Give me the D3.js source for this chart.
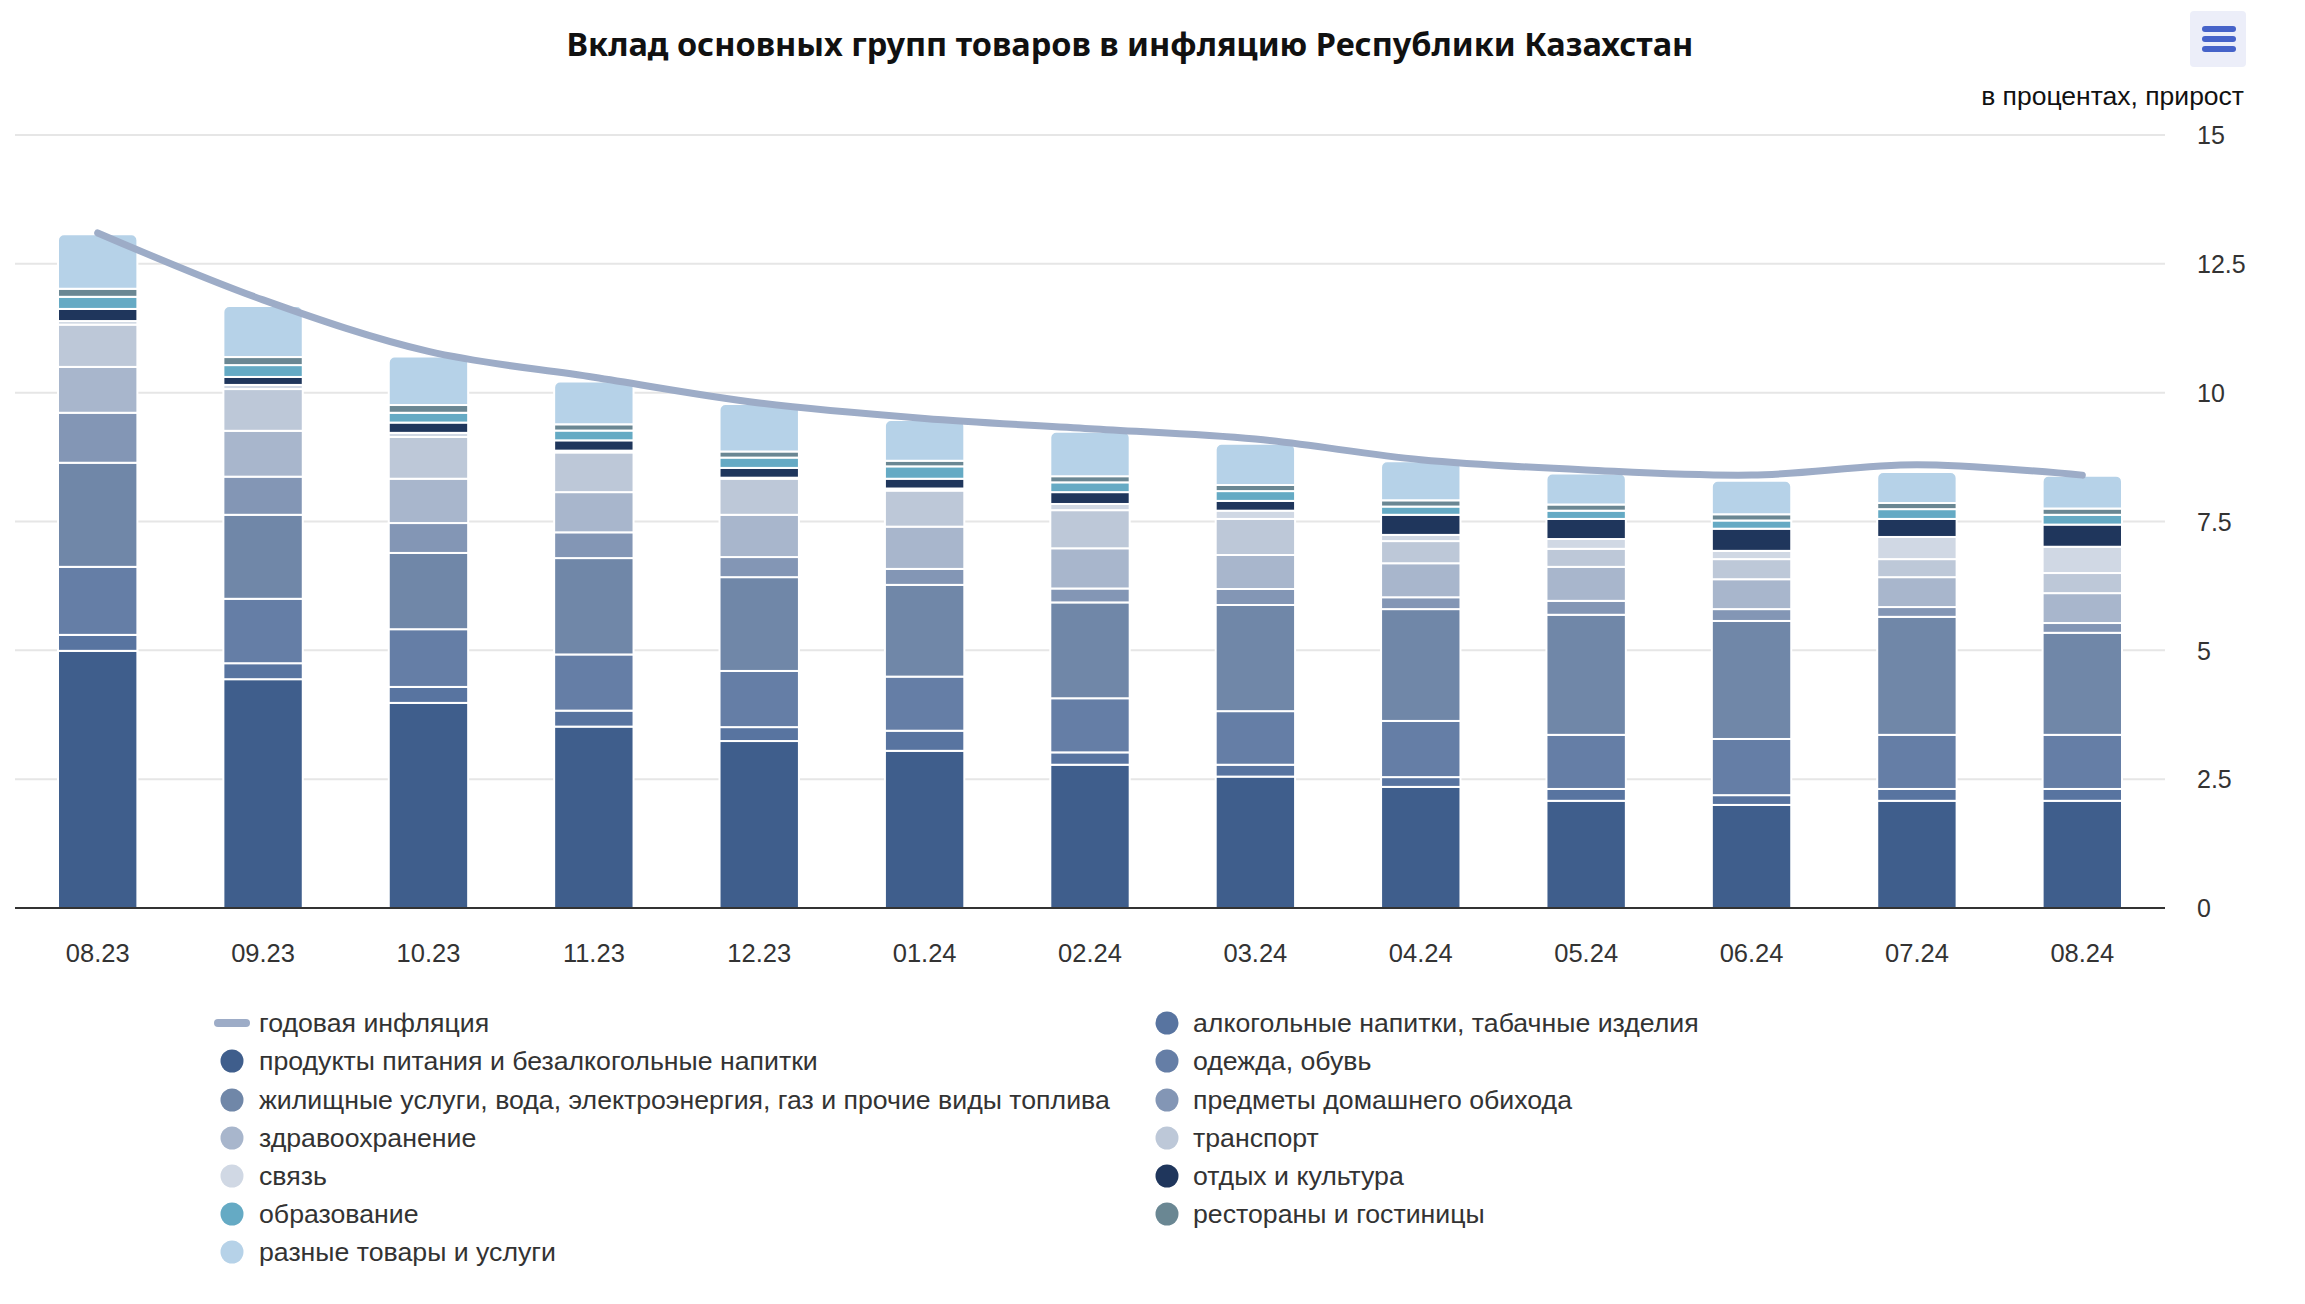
<!DOCTYPE html>
<html><head><meta charset="utf-8">
<script src="https://cdn.jsdelivr.net/npm/d3@7/dist/d3.min.js"></script>
<style>
html,body{margin:0;padding:0;background:#fff;}
svg{display:block;}
</style></head>
<body>
<svg id="chart" width="2305" height="1304"></svg>
<script>
const categories = ["08.23","09.23","10.23","11.23","12.23","01.24","02.24","03.24","04.24","05.24","06.24","07.24","08.24"];
const inflation = [13.1, 11.8, 10.8, 10.3, 9.8, 9.5, 9.3, 9.1, 8.7, 8.5, 8.4, 8.6, 8.4];

const food = [4.99, 4.44, 3.98, 3.52, 3.24, 3.05, 2.78, 2.55, 2.35, 2.08, 2.00, 2.08, 2.08];
const alcohol = [0.31, 0.31, 0.31, 0.31, 0.27, 0.39, 0.24, 0.23, 0.19, 0.23, 0.19, 0.23, 0.23];
const clothing = [1.32, 1.25, 1.12, 1.09, 1.09, 1.05, 1.05, 1.04, 1.09, 1.05, 1.09, 1.05, 1.05];
const housing = [2.02, 1.63, 1.48, 1.87, 1.82, 1.78, 1.86, 2.06, 2.17, 2.33, 2.29, 2.29, 1.98];
const household = [0.97, 0.74, 0.58, 0.50, 0.39, 0.31, 0.27, 0.31, 0.23, 0.27, 0.23, 0.19, 0.19];
const health = [0.89, 0.89, 0.86, 0.78, 0.82, 0.82, 0.78, 0.66, 0.66, 0.66, 0.58, 0.58, 0.58];
const transport = [0.82, 0.81, 0.81, 0.77, 0.70, 0.70, 0.74, 0.70, 0.43, 0.35, 0.39, 0.35, 0.39];
const communication = [0.07, 0.08, 0.08, 0.035, 0.02, 0.04, 0.12, 0.16, 0.12, 0.19, 0.16, 0.43, 0.51];
const recreation = [0.235, 0.155, 0.20, 0.20, 0.19, 0.19, 0.23, 0.19, 0.39, 0.39, 0.43, 0.35, 0.43];
const education = [0.235, 0.23, 0.19, 0.19, 0.20, 0.24, 0.19, 0.19, 0.16, 0.16, 0.16, 0.19, 0.19];
const restaurants = [0.155, 0.155, 0.15, 0.12, 0.12, 0.11, 0.12, 0.12, 0.12, 0.12, 0.12, 0.12, 0.12];
const misc = [1.06, 0.99, 0.94, 0.83, 0.92, 0.79, 0.86, 0.80, 0.76, 0.60, 0.65, 0.60, 0.64];

const yTicks = [0, 2.5, 5, 7.5, 10, 12.5, 15];
const yTickLabels = ["0", "2.5", "5", "7.5", "10", "12.5", "15"];

const lineName = "годовая инфляция";
const lineColor = "#9dacc7";

// stacking order bottom -> top
const series = [
  {name: "продукты питания и безалкогольные напитки", values: food, color: "#3f5e8c"},
  {name: "алкогольные напитки, табачные изделия", values: alcohol, color: "#5874a0"},
  {name: "одежда, обувь", values: clothing, color: "#657ea6"},
  {name: "жилищные услуги, вода, электроэнергия, газ и прочие виды топлива", values: housing, color: "#7087a8"},
  {name: "предметы домашнего обихода", values: household, color: "#8396b5"},
  {name: "здравоохранение", values: health, color: "#a8b6cc"},
  {name: "транспорт", values: transport, color: "#bdc8d8"},
  {name: "связь", values: communication, color: "#d0d8e4"},
  {name: "отдых и культура", values: recreation, color: "#1f365c"},
  {name: "образование", values: education, color: "#65aac4"},
  {name: "рестораны и гостиницы", values: restaurants, color: "#6a8793"},
  {name: "разные товары и услуги", values: misc, color: "#b6d2e8"}
];

// legend layout (names in reading order)
const legendLeft = [lineName, series[0].name, series[3].name, series[5].name, series[7].name, series[9].name, series[11].name];
const legendRight = [series[1].name, series[2].name, series[4].name, series[6].name, series[8].name, series[10].name];

const svg = d3.select("#chart");
const FONT = "'Liberation Sans', Arial, Helvetica, sans-serif";

const x = d3.scaleBand().domain(categories).range([15, 2165]).paddingInner(0.52).paddingOuter(0.26);
const y = d3.scaleLinear().domain([0, 15]).range([908, 135]);

// title
svg.append("text")
  .attr("x", 1130).attr("y", 56)
  .attr("text-anchor", "middle")
  .attr("font-family", "'Noto Sans', 'Open Sans', sans-serif")
  .attr("font-weight", 700)
  .attr("font-size", 32.5)
  .attr("fill", "#111")
  .text("Вклад основных групп товаров в инфляцию Республики Казахстан");

// menu button
const menu = svg.append("g");
menu.append("rect").attr("x", 2190).attr("y", 11).attr("width", 56).attr("height", 56).attr("rx", 4).attr("fill", "#eceef9");
[29, 39, 49].forEach(yy => {
  menu.append("line").attr("x1", 2205).attr("x2", 2233).attr("y1", yy).attr("y2", yy)
    .attr("stroke", "#4663c9").attr("stroke-width", 6).attr("stroke-linecap", "round");
});

// axis title
svg.append("text")
  .attr("x", 2244).attr("y", 105)
  .attr("text-anchor", "end")
  .attr("font-family", FONT).attr("font-size", 26.5).attr("fill", "#111")
  .text("в процентах, прирост");

// grid
svg.append("g").selectAll("line").data(yTicks.filter(t => t > 0)).join("line")
  .attr("x1", 15).attr("x2", 2165)
  .attr("y1", d => y(d)).attr("y2", d => y(d))
  .attr("stroke", "#e6e6e6").attr("stroke-width", 2);

// y axis labels (right)
const yAxis = d3.axisRight(y).tickValues(yTicks).tickSize(0).tickPadding(0)
  .tickFormat((d, i) => yTickLabels[i]);
const yg = svg.append("g").attr("transform", "translate(2197,0)").call(yAxis);
yg.select(".domain").remove();
yg.selectAll("text").attr("font-family", FONT).attr("font-size", 25).attr("fill", "#333").attr("dy", "0.35em");

// stacked data
const keys = series.map((s, i) => i);
const rows = categories.map((c, j) => {
  const r = {cat: c};
  series.forEach((s, i) => r[i] = s.values[j]);
  return r;
});
const stacked = d3.stack().keys(keys)(rows);

const bw = x.bandwidth();
const r = 6;
const barsG = svg.append("g");
stacked.forEach((layer, li) => {
  const isTop = li === stacked.length - 1;
  const g = barsG.append("g");
  layer.forEach((d, j) => {
    const x0 = x(categories[j]);
    const yTop = y(d[1]), yBot = y(d[0]);
    if (!isTop) {
      g.append("rect")
        .attr("x", x0).attr("y", yTop)
        .attr("width", bw).attr("height", Math.max(0, yBot - yTop))
        .attr("fill", series[li].color)
        .attr("stroke", "#fff").attr("stroke-width", 2);
    } else {
      const p = d3.path();
      p.moveTo(x0, yBot);
      p.lineTo(x0, yTop + r);
      p.arcTo(x0, yTop, x0 + r, yTop, r);
      p.lineTo(x0 + bw - r, yTop);
      p.arcTo(x0 + bw, yTop, x0 + bw, yTop + r, r);
      p.lineTo(x0 + bw, yBot);
      p.closePath();
      g.append("path").attr("d", p.toString())
        .attr("fill", series[li].color)
        .attr("stroke", "#fff").attr("stroke-width", 2);
    }
  });
});

// x axis
svg.append("line").attr("x1", 15).attr("x2", 2165).attr("y1", 908).attr("y2", 908)
  .attr("stroke", "#333").attr("stroke-width", 2);
const xAxis = d3.axisBottom(x).tickSize(0).tickPadding(0);
const xg = svg.append("g").attr("transform", "translate(0,945)").call(xAxis);
xg.select(".domain").remove();
xg.selectAll("text").attr("font-family", FONT).attr("font-size", 25.5).attr("fill", "#333").attr("dy", "0.35em").attr("y", 8);

// line
const line = d3.line()
  .x((d, i) => x(categories[i]) + bw / 2)
  .y(d => y(d))
  .curve(d3.curveCatmullRom.alpha(0.5));
svg.append("path").datum(inflation)
  .attr("d", line)
  .attr("fill", "none")
  .attr("stroke", lineColor)
  .attr("stroke-width", 7)
  .attr("stroke-linecap", "round")
  .attr("stroke-linejoin", "round");

// legend
const colorOf = name => name === lineName ? lineColor : series.find(s => s.name === name).color;
const legendRowsY = [1023, 1061, 1100, 1138, 1176, 1214, 1252];
function drawLegend(list, symX, textX) {
  list.forEach((name, i) => {
    const yy = legendRowsY[i];
    if (name === lineName) {
      svg.append("line").attr("x1", symX - 14).attr("x2", symX + 14).attr("y1", yy).attr("y2", yy)
        .attr("stroke", lineColor).attr("stroke-width", 8).attr("stroke-linecap", "round");
    } else {
      svg.append("circle").attr("cx", symX).attr("cy", yy).attr("r", 11.5).attr("fill", colorOf(name));
    }
    svg.append("text").attr("x", textX).attr("y", yy).attr("dy", "0.35em")
      .attr("font-family", FONT).attr("font-size", 26.7).attr("fill", "#333")
      .text(name);
  });
}
drawLegend(legendLeft, 232, 259);
drawLegend(legendRight, 1167, 1193);
</script>
</body></html>
